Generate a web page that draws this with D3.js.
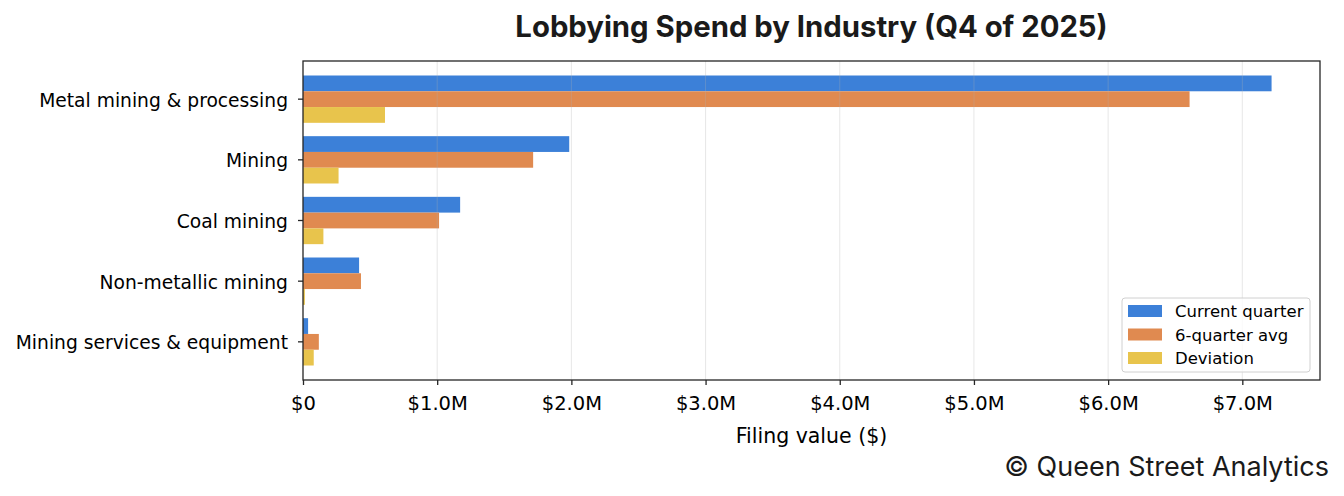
<!DOCTYPE html>
<html>
<head>
<meta charset="utf-8">
<script src="https://cdn.jsdelivr.net/npm/d3@7"></script>
<style>
  body { margin: 0; background: #fff; }
  svg { display: block; }
</style>
</head>
<body>
<svg id="chart"></svg>
<script>
const industries = [
  "Metal mining & processing",
  "Mining",
  "Coal mining",
  "Non-metallic mining",
  "Mining services & equipment"
]
const series = ["Current quarter", "6-quarter avg", "Deviation"]
const current_quarter = [7.218, 1.984, 1.171, 0.418, 0.038]
const six_quarter_avg = [6.607, 1.715, 1.014, 0.432, 0.118]
const deviation = [0.611, 0.265, 0.152, 0.014, 0.080]
const x_ticks = [0, 1, 2, 3, 4, 5, 6, 7]
const colors = ["#3c80d8", "#e08a50", "#e8c44c"]

const width = 1344
const height = 496
const margin = { top: 61, right: 24, bottom: 116, left: 303 }

const values = [current_quarter, six_quarter_avg, deviation]

const svg = d3.select("#chart")
  .attr("width", width)
  .attr("height", height)

const x = d3.scaleLinear()
  .domain([0, d3.max(current_quarter) * 1.05])
  .range([margin.left, width - margin.right])

// matplotlib-like spacing: 0.78 of each slot holds the 3 bars, 5% margins
const y = d3.scaleBand()
  .domain(industries)
  .range([margin.top, height - margin.bottom])
  .paddingInner(0)
  .paddingOuter(0.129)

const y_sub = d3.scaleBand()
  .domain(series)
  .range([y.bandwidth() * 0.11, y.bandwidth() * 0.89])

const plot_top = margin.top
const plot_bottom = height - margin.bottom

// bars
series.forEach((s, si) => {
  svg.append("g")
    .selectAll("rect")
    .data(industries)
    .enter()
    .append("rect")
    .attr("x", x(0))
    .attr("y", (d) => y(d) + y_sub(s))
    .attr("width", (d, i) => x(values[si][i]) - x(0))
    .attr("height", y_sub.bandwidth())
    .attr("fill", colors[si])
})

// grid lines (drawn over the bars, faint)
svg.append("g")
  .selectAll("line")
  .data(x_ticks.slice(1))
  .enter()
  .append("line")
  .attr("x1", (d) => x(d))
  .attr("x2", (d) => x(d))
  .attr("y1", plot_top)
  .attr("y2", plot_bottom)
  .attr("stroke", "#b0b0b0")
  .attr("stroke-opacity", 0.3)
  .attr("stroke-width", 1)

// x axis
const x_axis = svg.append("g")
  .attr("transform", `translate(0,${plot_bottom})`)
  .call(d3.axisBottom(x)
    .tickValues(x_ticks)
    .tickSize(5)
    .tickPadding(11)
    .tickFormat((d) => d == 0 ? "$0" : "$" + d.toFixed(1) + "M"))

// y axis
const y_axis = svg.append("g")
  .attr("transform", `translate(${margin.left},0)`)
  .call(d3.axisLeft(y).tickSize(5).tickPadding(10))

for (const ax of [x_axis, y_axis]) {
  ax.select(".domain").remove()
  ax.selectAll(".tick line").attr("stroke", "#262626").attr("stroke-width", 1.3)
  ax.selectAll(".tick text")
    .attr("fill", "#000")
    .style("font-family", "DejaVu Sans")
}
x_axis.selectAll(".tick text").style("font-size", "19.5px")
y_axis.selectAll(".tick text").style("font-size", "18.7px").attr("dy", "0.4em")

// frame
svg.append("rect")
  .attr("x", margin.left)
  .attr("y", plot_top)
  .attr("width", width - margin.right - margin.left)
  .attr("height", plot_bottom - plot_top)
  .attr("fill", "none")
  .attr("stroke", "#262626")
  .attr("stroke-width", 1.3)

// axis title
svg.append("text")
  .attr("x", (margin.left + width - margin.right) / 2)
  .attr("y", 443)
  .attr("text-anchor", "middle")
  .style("font-family", "DejaVu Sans")
  .style("font-size", "20.5px")
  .text("Filing value ($)")

// title
svg.append("text")
  .attr("x", (margin.left + width - margin.right) / 2)
  .attr("y", 37)
  .attr("text-anchor", "middle")
  .style("font-family", "Inter")
  .style("font-weight", "bold")
  .style("font-size", "29.3px")
  .attr("fill", "#1a1a1a")
  .text("Lobbying Spend by Industry (Q4 of 2025)")

// legend
const legend = svg.append("g").attr("transform", "translate(1122,298)")
legend.append("rect")
  .attr("width", 188)
  .attr("height", 74)
  .attr("rx", 3)
  .attr("fill", "#fff")
  .attr("fill-opacity", 0.8)
  .attr("stroke", "#d0d0d0")

series.forEach((s, i) => {
  legend.append("rect")
    .attr("x", 6)
    .attr("y", 7 + i * 23.5)
    .attr("width", 34)
    .attr("height", 12)
    .attr("fill", colors[i])
  legend.append("text")
    .attr("x", 53)
    .attr("y", 19 + i * 23.5)
    .style("font-family", "DejaVu Sans")
    .style("font-size", "16.5px")
    .text(s)
})

// credit
svg.append("text")
  .attr("x", 1329)
  .attr("y", 476)
  .attr("text-anchor", "end")
  .style("font-family", "Inter")
  .style("font-size", "27px")
  .attr("fill", "#1a1a1a")
  .text("© Queen Street Analytics")
</script>
</body>
</html>
